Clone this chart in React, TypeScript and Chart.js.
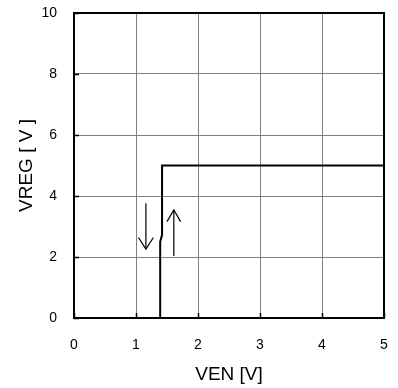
import React, { useEffect, useRef } from "react";
import { Chart, registerables } from "chart.js";

Chart.register(...registerables);

// Main VREG vs VEN curve
const lineX = [0, 1.39, 1.39, 1.42, 1.42, 5];
const lineY = [0, 0, 2.5, 2.72, 5, 5];
// Down arrow (falling VEN)
const downShaftX = [1.16, 1.16];
const downShaftY = [3.76, 2.26];
const downHeadX = [1.04, 1.16, 1.28];
const downHeadY = [2.64, 2.26, 2.64];
// Up arrow (rising VEN)
const upShaftX = [1.61, 1.61];
const upShaftY = [2.03, 3.54];
const upHeadX = [1.5, 1.61, 1.72];
const upHeadY = [3.16, 3.54, 3.16];

const xTicks = [0, 1, 2, 3, 4, 5];
const yTicks = [0, 2, 4, 6, 8, 10];
const xTitle = "VEN [V]";
const yTitle = "VREG [ V ]";

const pts = (xs: number[], ys: number[]) => xs.map((x, i) => ({ x, y: ys[i] }));

const lineDs = (xs: number[], ys: number[], w: number) => ({
  data: pts(xs, ys),
  showLine: true,
  borderColor: "#000",
  backgroundColor: "#000",
  borderWidth: w,
  pointRadius: 0,
  tension: 0,
  fill: false,
});

const zeroPad = (s: any) => {
  s.paddingTop = 0;
  s.paddingBottom = 0;
  s.paddingLeft = 0;
  s.paddingRight = 0;
};

export default function App() {
  const ref = useRef<HTMLCanvasElement>(null);
  useEffect(() => {
    if (!ref.current) return;
    const frame = {
      id: "frame",
      beforeDatasetsDraw(chart: any) {
        const { ctx, chartArea: a, scales } = chart;
        ctx.save();
        ctx.strokeStyle = "#000";
        ctx.lineWidth = 1.5;
        xTicks.forEach((v) => {
          const px = Math.round(scales.x.getPixelForValue(v)) + 0.5;
          ctx.beginPath();
          ctx.moveTo(px, a.bottom);
          ctx.lineTo(px, a.bottom - 5);
          ctx.stroke();
        });
        yTicks.forEach((v) => {
          const py = Math.round(scales.y.getPixelForValue(v)) + 0.5;
          ctx.beginPath();
          ctx.moveTo(a.left, py);
          ctx.lineTo(a.left + 5, py);
          ctx.stroke();
        });
        ctx.lineWidth = 2;
        ctx.strokeRect(a.left, a.top, a.right - a.left, a.bottom - a.top);
        ctx.restore();
      },
    };
    const chart = new Chart(ref.current, {
      type: "scatter",
      data: {
        datasets: [
          lineDs(lineX, lineY, 2),
          lineDs(downShaftX, downShaftY, 1.2),
          lineDs(downHeadX, downHeadY, 1.2),
          lineDs(upShaftX, upShaftY, 1.2),
          lineDs(upHeadX, upHeadY, 1.2),
        ] as any,
      },
      options: {
        responsive: false,
        devicePixelRatio: 1,
        animation: false,
        layout: { padding: { top: 13, right: 14, left: 0, bottom: 0 } },
        plugins: { legend: { display: false }, tooltip: { enabled: false } },
        scales: {
          x: {
            type: "linear",
            min: 0,
            max: 5,
            afterBuildTicks: (s: any) => {
              s.ticks = xTicks.map((v) => ({ value: v }));
            },
            afterFit: (s: any) => {
              s.height = 70;
              zeroPad(s);
            },
            grid: { color: "#808080", lineWidth: 1, drawTicks: false },
            border: { display: false },
            ticks: {
              padding: 19,
              color: "#000",
              font: { family: "'Liberation Sans', Arial, sans-serif", size: 14 },
              maxRotation: 0,
            },
            title: {
              display: true,
              text: xTitle,
              color: "#000",
              font: { family: "'Liberation Sans', Arial, sans-serif", size: 19 },
              padding: { top: 0, bottom: 2 },
            },
          },
          y: {
            type: "linear",
            min: 0,
            max: 10,
            afterBuildTicks: (s: any) => {
              s.ticks = yTicks.map((v) => ({ value: v }));
            },
            afterFit: (s: any) => {
              s.width = 74;
              zeroPad(s);
            },
            grid: { color: "#808080", lineWidth: 1, drawTicks: false },
            border: { display: false },
            ticks: {
              padding: 17,
              color: "#000",
              font: { family: "'Liberation Sans', Arial, sans-serif", size: 14 },
            },
            title: {
              display: true,
              text: yTitle,
              color: "#000",
              font: { family: "'Liberation Sans', Arial, sans-serif", size: 19 },
              padding: { top: 15, bottom: 0 },
            },
          },
        },
      } as any,
      plugins: [frame],
    });
    return () => chart.destroy();
  }, []);
  return (
    <div style={{ position: "absolute", left: 0, top: 0, width: 398, height: 388, background: "#fff" }}>
      <canvas ref={ref} width={398} height={388} style={{ display: "block", width: 398, height: 388 }} />
    </div>
  );
}
